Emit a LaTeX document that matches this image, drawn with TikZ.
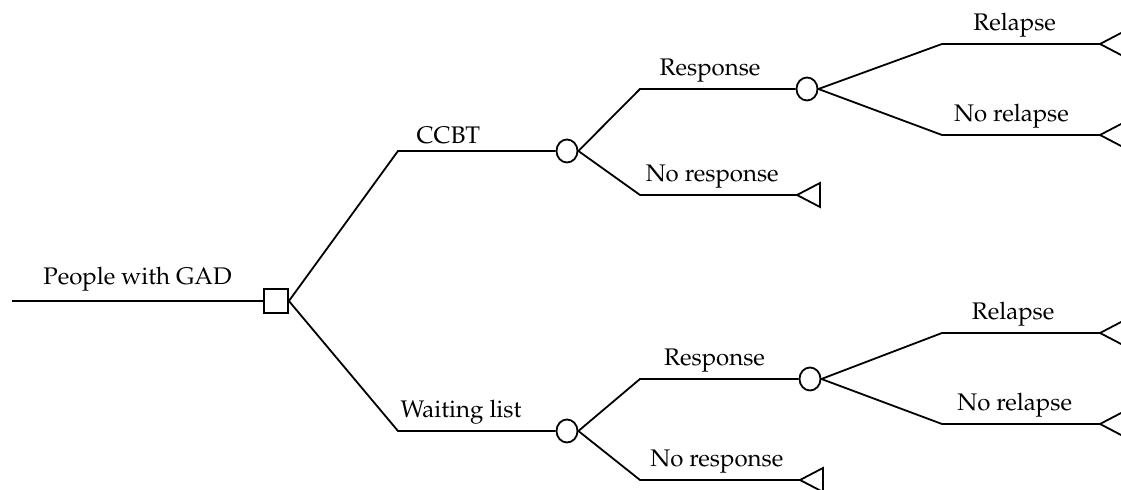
\documentclass[tikz,border=0pt]{standalone}
\usepackage[T1]{fontenc}
\usepackage{mathpazo}
\usetikzlibrary{shapes.geometric}
\begin{document}
\begin{tikzpicture}[x=0.5pt,y=-0.5pt,line width=0.9pt,dec/.style={draw,rectangle,minimum size=12pt,inner sep=0pt},chn/.style={draw,ellipse,minimum width=10.5pt,minimum height=11.5pt,inner sep=0pt},lbl/.style={font=\fontsize{12}{14}\selectfont,inner sep=3pt,above}]
		\useasboundingbox (0,0) rectangle (1121,490);
		\node[dec] (sq) at (276,301) {};
		\node[chn] (c1) at (567,151) {};
		\node[chn] (c2) at (567,431) {};
		\node[chn] (c3) at (807,89) {};
		\node[chn] (c4) at (810,379) {};
		\coordinate (s) at (12,301);
		\coordinate (b1) at (398,151);
		\coordinate (b2) at (398,431);
		\coordinate (b3) at (640,89);
		\coordinate (b4) at (640,195);
		\coordinate (b5) at (942,44);
		\coordinate (b6) at (942,135);
		\coordinate (b7) at (640,379);
		\coordinate (b8) at (640,480);
		\coordinate (b9) at (942,333);
		\coordinate (b10) at (942,424);
		\coordinate (t1) at (797,195);
		\coordinate (t2) at (1100,44);
		\coordinate (t3) at (1100,135);
		\coordinate (t4) at (800,480);
		\coordinate (t5) at (1100,333);
		\coordinate (t6) at (1100,424);

		\foreach \t in {t1,t2,t3,t4,t5,t6}
			\draw (\t) -- ++(23,-12) -- ++(0,24) -- cycle;

		\draw (s) -- node[lbl,yshift=1.5pt] {People with GAD} (sq.west);
		\draw (sq.east) -- (b1) -- node[lbl,pos=0.32] {CCBT} (c1.west);
		\draw (sq.east) -- (b2) -- node[lbl,pos=0.4] {Waiting list} (c2.west);
		\draw (c1.east) -- (b3) -- node[lbl,pos=0.45] {Response} (c3.west);
		\draw (c1.east) -- (b4) -- node[lbl,pos=0.46] {No response} (t1);
		\draw (c3.east) -- (b5) -- node[lbl,pos=0.46] {Relapse} (t2);
		\draw (c3.east) -- (b6) -- node[lbl,pos=0.44] {No relapse} (t3);
		\draw (c2.east) -- (b7) -- node[lbl,pos=0.47] {Response} (c4.west);
		\draw (c2.east) -- (b8) -- node[lbl,pos=0.48] {No response} (t4);
		\draw (c4.east) -- (b9) -- node[lbl,pos=0.45] {Relapse} (t5);
		\draw (c4.east) -- (b10) -- node[lbl,pos=0.46] {No relapse} (t6);
	\end{tikzpicture}
\end{document}
